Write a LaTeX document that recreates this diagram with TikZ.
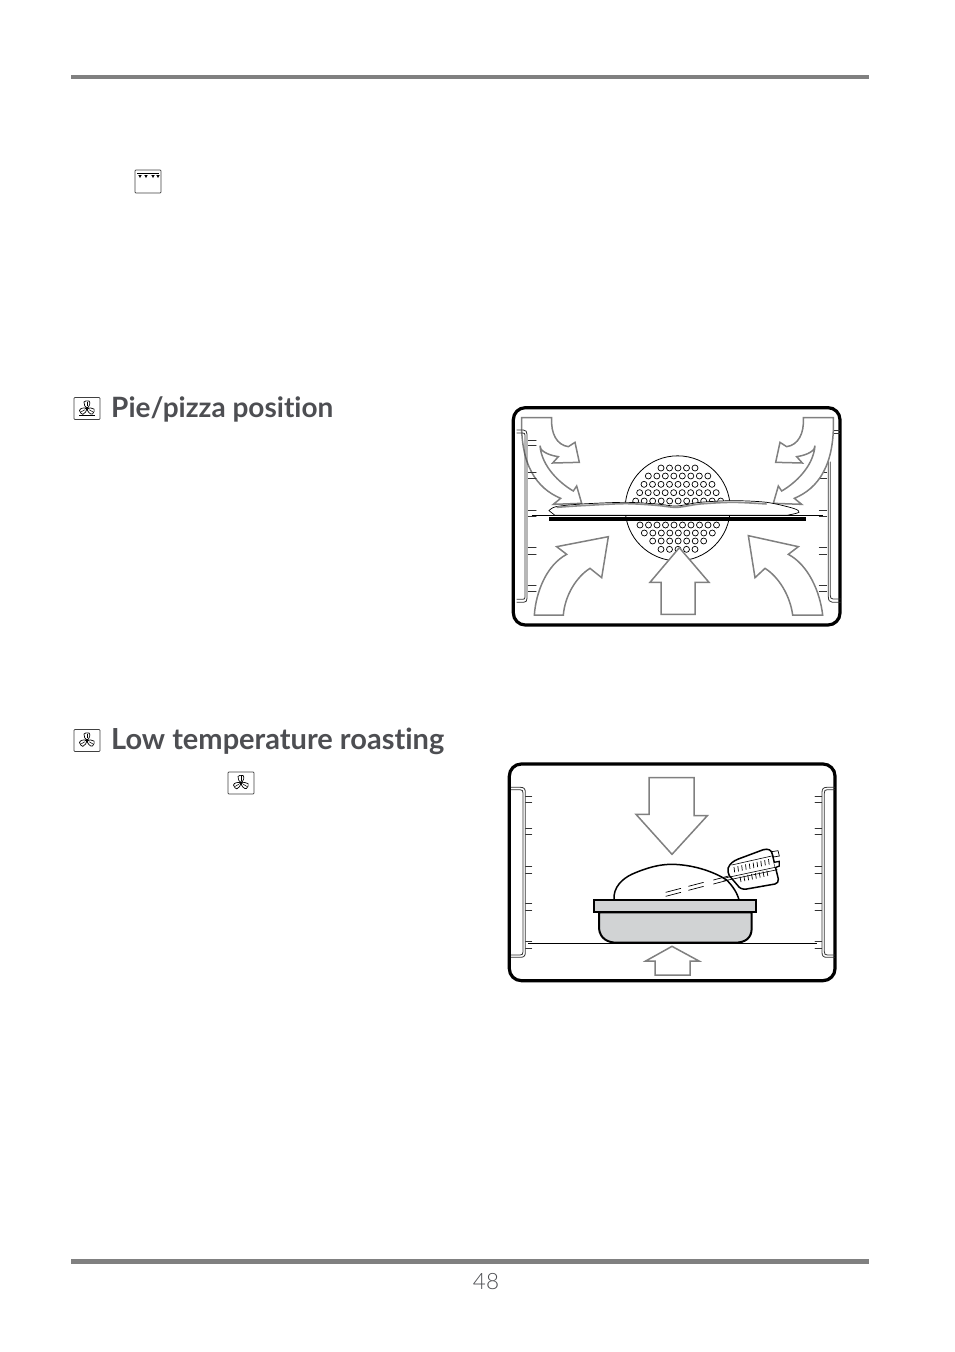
\documentclass[tikz,border=0pt]{standalone}
\usepackage{fontspec}
\setmainfont[Ligatures=NoCommon]{Lato}
\newfontfamily\lightfont{Lato Light}
\usepackage{tikz}

\definecolor{headgray}{HTML}{4D4E52}
\definecolor{bargray}{HTML}{808080}
\definecolor{pangray}{HTML}{D1D3D4}

\tikzset{
  heading/.style={anchor=base west, inner sep=0pt, text=headgray, font=\fontsize{28}{30}\selectfont\bfseries},
  pagebar/.style={fill=bargray},
  oven/.style={line width=3.2pt, rounded corners=12pt},
  airflow/.style={draw=bargray, line width=1.5pt, fill=white, line join=miter},
  rail/.style={line width=0.8pt, draw=black!80},
  ledge/.style={line width=1pt, draw=black!80, line cap=round},
  iconbox/.style={draw=black!75, line width=0.7pt, rounded corners=0.8pt, fill=white},
  fanbox/.pic={
    \draw[iconbox] (-13,-11) rectangle (13,11);
    \foreach \ang in {90,210,330}{
      \draw[line width=0.7pt, rotate=\ang] (0,0) .. controls (1.5,2.2) and (6,4) .. (7.5,2) .. controls (8.2,0) and (7.5,-2.5) .. (6.5,-3) .. controls (4,-3.2) and (1.5,-2) .. (0,0);
      \draw[line width=0.5pt, rotate=\ang] (2.5,0) -- (6.8,0);
    }
    \draw[line width=0.7pt] (0,0) circle[radius=1.4pt];
  }
}

\begin{document}
\begin{tikzpicture}[x=1pt,y=-1pt]
\useasboundingbox (0,0) rectangle (954,1352);

% Page bars and page number
\fill[pagebar] (71,74.5) rectangle (869,78.5);
\fill[pagebar] (71,1259) rectangle (869,1264);
\node[inner sep=0pt, text=headgray, font=\lightfont\fontsize{22.5}{26}\selectfont] (pagenum) at (486,1282) {48};

% Top grill icon
\draw[iconbox] (135,170) rectangle (161,193);
\draw[line width=0.7pt] (137,173) -- (159,173);
\foreach \xtip in {140,146,153,158}
  \fill (\xtip-1.7,175) -- (\xtip+1.7,175) -- (\xtip,178) -- cycle;

% Headings
\pic at (87,408.5) {fanbox};
\draw[line width=0.7pt] (79,415.5) -- (95,415.5);
\node[heading] (pietitle) at (111,417) {Pie/pizza position};
\pic at (87,740.5) {fanbox};
\node[heading, font=\fontsize{29}{30}\selectfont\bfseries] (lowtitle) at (111,749) {Low temperature roasting};
\pic at (241,783) {fanbox};

% Pie/pizza oven
\begin{scope}[shift={(500,395)},x=0.33333pt,y=-0.33333pt]
\draw[oven] (40,38) rectangle (1020,690);

% Perforated circle and its holes
\draw[line width=0.8pt] (533,340) circle[radius=52.5pt];
\foreach \yrow/\xfirst/\nholes in {219/483/5,243/445/8,268/432/9,293/419/10,318/407/11,390/420/10,414/433/9,438/458/7,463/483/5}
  \foreach \k in {1,...,\nholes}
    \draw[line width=0.7pt] (\xfirst+25.5*\k-25.5,\yrow) circle[radius=3pt];

% Right rail and shelf ledges, under the arrows
\draw[rail] (1020,105) -- (1000,105) (1020,114) -- (1000,114);
\draw[rail] (1022,622) -- (997,622) .. controls (988,622) and (985,615) .. (985,605) -- (985,200);
\draw[rail] (1022,612) -- (999,612) .. controls (993,612) and (991,608) .. (991,602) -- (991,200);
\foreach \ytop/\ybot in {135/150,233/250,345/365,458/478,570/590}{
  \draw[ledge] (958,\ytop) -- (980,\ytop);
  \draw[ledge] (958,\ybot) -- (980,\ybot);
}

% Hot air arrows
\draw[airflow] (65,68) -- (155,68) .. controls (152,115) and (170,150) .. (205,155) -- (225,142) -- (238,202) -- (158,204) -- (175,185) .. controls (140,180) and (118,165) .. (120,152) .. controls (125,215) and (180,265) .. (220,288) -- (230,273) -- (245,325) -- (160,328) -- (182,310) .. controls (110,280) and (60,210) .. (65,68) -- cycle;
\draw[airflow] (1000,68) -- (910,68) .. controls (913,115) and (895,150) .. (860,155) -- (840,142) -- (827,202) -- (907,204) -- (890,185) .. controls (925,180) and (947,165) .. (945,152) .. controls (940,215) and (885,265) .. (845,288) -- (835,273) -- (820,325) -- (905,328) -- (883,310) .. controls (955,280) and (1005,210) .. (1000,68) -- cycle;
\draw[airflow] (103,660) -- (190,660) .. controls (195,600) and (230,545) .. (270,520) -- (305,548) -- (325,425) -- (170,455) -- (200,478) .. controls (140,510) and (108,590) .. (103,660) -- cycle;
\draw[airflow] (968,660) -- (878,660) .. controls (870,600) and (835,545) .. (795,520) -- (765,548) -- (745,422) -- (895,455) -- (865,478) .. controls (925,510) and (960,590) .. (968,660) -- cycle;
\draw[airflow] (483,658) -- (483,562) -- (450,562) -- (538,458) -- (627,562) -- (585,562) -- (585,658) -- cycle;

% Left rail and ledges, over the arrows
\draw[rail] (50,105) -- (70,105) .. controls (78,105) and (81,110) .. (81,118) -- (81,610) .. controls (81,618) and (78,622) .. (70,622) -- (50,622);
\draw[rail] (50,114) -- (68,114) .. controls (73,114) and (75,116) .. (75,120) -- (75,606) .. controls (75,611) and (73,613) .. (68,613) -- (50,613);
\foreach \ytop/\ybot in {135/150,233/250,345/365,458/478,570/590}{
  \draw[ledge] (85,\ytop) -- (108,\ytop);
  \draw[ledge] (85,\ybot) -- (108,\ybot);
}

% Pizza on the tray
\draw[line width=0.7pt, fill=white] plot[smooth] coordinates {(147,347) (168,335) (245,327) (375,322) (470,327) (530,333) (600,322) (700,317) (800,322) (880,340) (897,352) (860,361)} -- (165,361) -- cycle;
\draw[line width=1.6pt, draw=black!45] plot[smooth] coordinates {(170,337) (245,332) (375,326) (470,331) (530,337) (600,327) (700,322) (800,327)};
\draw[line width=0.9pt] (95,362) -- (970,362);
\fill (147,366) rectangle (917,378);
\end{scope}

% Low temperature oven
\begin{scope}[shift={(500,755)},x=0.33333pt,y=-0.33333pt]
\draw[oven] (28,27) rectangle (1005,677);

% Rails and shelf ledges
\draw[rail] (33,97) -- (62,97) .. controls (72,97) and (76,102) .. (76,112) -- (76,592) .. controls (76,602) and (72,607) .. (62,607) -- (33,607);
\draw[rail] (33,104) -- (60,104) .. controls (67,104) and (69,107) .. (69,114) -- (69,590) .. controls (69,597) and (67,600) .. (60,600) -- (33,600);
\draw[rail] (1005,97) -- (980,97) .. controls (970,97) and (966,102) .. (966,112) -- (966,592) .. controls (966,602) and (970,607) .. (980,607) -- (1005,607);
\draw[rail] (1005,104) -- (982,104) .. controls (975,104) and (973,107) .. (973,114) -- (973,590) .. controls (973,597) and (975,600) .. (982,600) -- (1005,600);
\foreach \ytop/\ybot in {124/142,219/238,333/356,445/465,558/580}{
  \draw[ledge] (77,\ytop) -- (95,\ytop);
  \draw[ledge] (77,\ybot) -- (95,\ybot);
  \draw[ledge] (945,\ytop) -- (965,\ytop);
  \draw[ledge] (945,\ybot) -- (965,\ybot);
}
\draw[line width=1.1pt] (85,566) -- (950,566);

% Heat arrows
\draw[airflow] (447,68) -- (582,68) -- (582,182) -- (622,182) -- (516,298) -- (408,178) -- (447,178) -- cycle;
\draw[airflow] (465,660) -- (570,660) -- (570,618) -- (597,618) -- (516,574) -- (437,618) -- (465,618) -- cycle;

% Roast
\draw[line width=1.5pt, fill=white] (342,437) .. controls (338,395) and (370,370) .. (395,358) .. controls (440,338) and (480,327) .. (520,328) .. controls (590,330) and (650,355) .. (680,375) .. controls (700,395) and (712,415) .. (718,437);

% Probe inside the roast
\foreach \xa/\ya in {497/412,565/394,640/375}{
  \draw[line width=0.7pt] (\xa,\ya) -- (\xa+46,\ya-12);
  \draw[line width=0.7pt] (\xa,\ya+12) -- (\xa+46,\ya);
}

% Probe handle
\draw[line width=0.7pt, fill=white] (815,290) -- (834,287) -- (838,303) -- (820,306) -- cycle;
\draw[line width=1.5pt, fill=white] (684,340) .. controls (690,325) and (700,318) .. (715,312) -- (790,284) .. controls (805,280) and (815,285) .. (817,298) -- (835,372) .. controls (836,380) and (832,385) .. (825,387) -- (740,402) .. controls (728,404) and (718,400) .. (712,390) -- (688,362) .. controls (684,355) and (683,347) .. (684,340) -- cycle;
\draw[line width=1.3pt, fill=white] (822,322) -- (838,319) -- (838,333) -- (826,338);
\draw[line width=0.6pt] (695,330) -- (815,303);
\draw[line width=0.6pt] (670,370) -- (830,336);
\draw[line width=0.6pt] (670,378) -- (832,344);
\foreach \k in {0,...,9}
  \draw[line width=0.7pt] (702+11.5*\k,336-2.6*\k) -- (704+11.5*\k,352-2.6*\k);
\foreach \k in {0,...,7}
  \draw[line width=0.7pt] (720+11.5*\k,365-2.6*\k) -- (723+11.5*\k,381-2.6*\k);

% Pan body and rim
\draw[line width=2pt, fill=pangray] (297,472) -- (297,520) .. controls (300,552) and (325,563) .. (350,563) -- (705,563) .. controls (735,563) and (755,550) .. (755,520) -- (755,472) -- cycle;
\draw[line width=2pt, fill=pangray] (283,436) rectangle (767,472);
\end{scope}
\end{tikzpicture}
\end{document}
